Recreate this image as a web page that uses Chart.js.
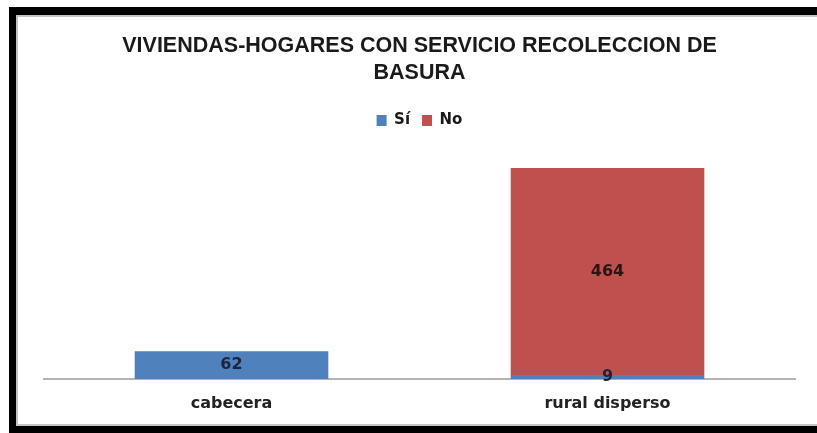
<!DOCTYPE html>
<html>
<head>
<meta charset="utf-8">
<script src="https://cdn.jsdelivr.net/npm/chart.js@4/dist/chart.umd.min.js"></script>
<style>
  html, body { margin: 0; padding: 0; background: #fff; }
  #wrap { position: relative; width: 817px; height: 433px; overflow: hidden; background: #fff; }
  #frame { position: absolute; left: 9px; top: 7px; width: 820px; height: 411px;
           border-left: 7px solid #000; border-top: 8px solid #000; border-bottom: 7px solid #000; }
  #inner { position: absolute; left: 0; top: 0; right: 0; bottom: 0;
           border-left: 2px solid #c4c4c4; border-top: 2px solid #c4c4c4; border-bottom: 2px solid #c4c4c4; }
  #c { position: absolute; left: 0; top: 0; }
</style>
</head>
<body>
<div id="wrap">
  <div id="frame"><div id="inner"></div></div>
  <canvas id="c" width="817" height="433"></canvas>
</div>
<script>
// ---- data ----
const categories = ["cabecera", "rural disperso"];
const seriesNames = ["Sí", "No"];
const siValues = [62, 9];
const noValues = [0, 464];
const titleLines = ["VIVIENDAS-HOGARES CON SERVICIO RECOLECCION DE", "BASURA"];

const barLabels = {
  id: 'barLabels',
  afterDatasetsDraw(chart) {
    const ctx = chart.ctx;
    ctx.save();
    ctx.font = 'bold 16px "DejaVu Sans", sans-serif';
    ctx.textAlign = 'center';
    ctx.textBaseline = 'middle';
    chart.data.datasets.forEach((ds, di) => {
      const meta = chart.getDatasetMeta(di);
      meta.data.forEach((el, i) => {
        const v = ds.data[i];
        if (!v) return;
        const p = el.getProps(['x', 'y', 'base'], true);
        ctx.fillStyle = ds.labelColor;
        ctx.fillText(String(v), p.x, (p.y + p.base) / 2);
      });
    });
    ctx.restore();
  }
};

new Chart(document.getElementById('c'), {
  type: 'bar',
  data: {
    labels: categories,
    datasets: [
      { label: seriesNames[0], data: siValues, backgroundColor: '#4F81BD', labelColor: '#1b2540' },
      { label: seriesNames[1], data: noValues, backgroundColor: '#C0504D', labelColor: '#2a1515' }
    ]
  },
  options: {
    responsive: false,
    animation: false,
    devicePixelRatio: 1,
    layout: { padding: { top: 0, left: 43.5, right: 21.5, bottom: 4.8 } },
    datasets: { bar: { categoryPercentage: 1, barPercentage: 0.515 } },
    plugins: {
      title: {
        display: true,
        text: titleLines,
        color: '#1a1a1a',
        font: { family: '"Liberation Sans", Arial, sans-serif', size: 21.5, weight: 'bold', lineHeight: 1.26 },
        padding: { top: 32.5, bottom: 14.3 }
      },
      legend: {
        display: true,
        position: 'top',
        labels: {
          boxWidth: 10, boxHeight: 11, color: '#1a1a1a', padding: 12,
          font: { family: '"DejaVu Sans", sans-serif', size: 15, weight: 'bold' }
        }
      },
      tooltip: { enabled: false }
    },
    scales: {
      x: {
        stacked: true,
        grid: { display: false, drawTicks: false },
        border: { display: true, color: '#b4b4b4', width: 2 },
        ticks: { color: '#222', padding: 15, font: { family: '"DejaVu Sans", sans-serif', size: 16, weight: 'bold' } }
      },
      y: {
        stacked: true,
        display: false,
        min: 0,
        max: 540
      }
    }
  },
  plugins: [barLabels]
});
</script>
</body>
</html>
